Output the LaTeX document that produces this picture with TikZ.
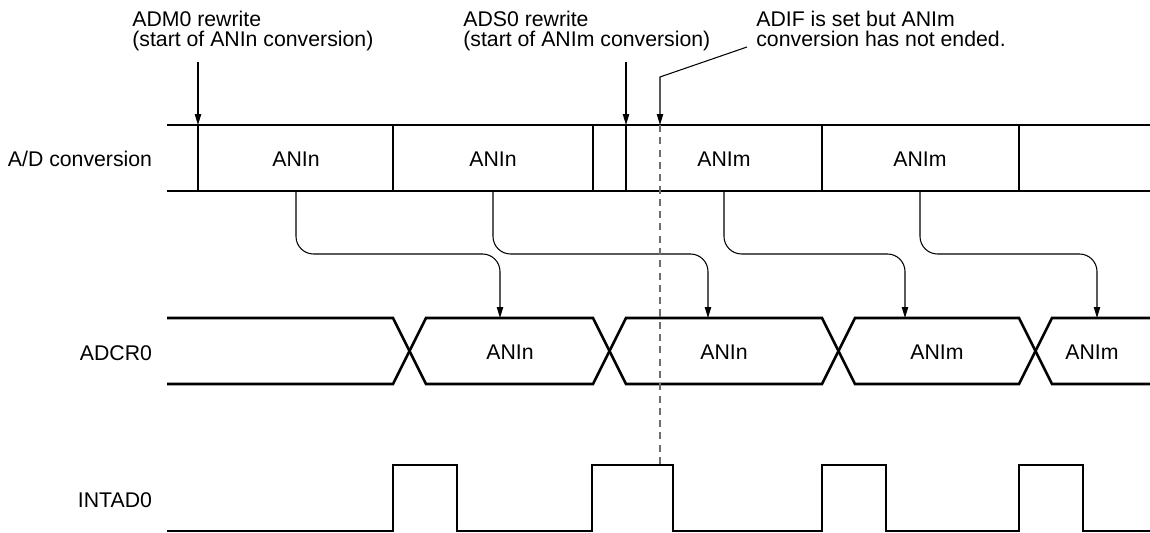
\documentclass[tikz,border=0pt]{standalone}
\usepackage{fontspec}
\setmainfont{Liberation Sans}
\usetikzlibrary{arrows.meta,positioning}
\definecolor{dashgray}{RGB}{110,110,110}
\tikzset{
  bus/.style={line width=1.5pt},
  divider/.style={line width=.6pt},
  pointer/.style={line width=.6pt,-{Triangle[length=6.2pt,width=3.6pt]}},
  flow/.style={pointer,rounded corners=10pt},
  note/.style={anchor=north west,inner sep=0pt,align=left}
}

\begin{document}
\begin{tikzpicture}[x=.02cm,y=-.02cm,font=\fontsize{12.1}{11.5}\selectfont]
    \useasboundingbox (0,0) rectangle (1150,533);
    % signal names
    \node (adname) at (80,159) {A/D conversion};
    \node (crname) at (116,353) {ADCR0};
    \node (intname) at (115,500) {INTAD0};
    % notes on top
    \node[note] (admnote) at (132,11) {ADM0 rewrite\\(start of ANIn conversion)};
    \node[note] (adsnote) at (463,11) {ADS0 rewrite\\(start of ANIm conversion)};
    \node[note] (adifnote) at (756,11) {ADIF is set but ANIm\\conversion has not ended.};
    % A/D conversion row
    \draw[bus] (167,125)--(1150,125) (167,191)--(1150,191);
    \foreach \x in {198,393,593,626,822,1019}{\draw[divider] (\x,125)--(\x,191);}
    \foreach \x/\t/\n in {296/ANIn/c1,493/ANIn/c2,724/ANIm/c3,920/ANIm/c4}{\node (\n) at (\x,159) {\t};}
    % ADCR0 row
    \draw[bus] (167,318)--(393,318)--(426,384)--(593,384)--(626,318)--(822,318)--(855,384)--(1019,384)--(1052,318)--(1150,318);
    \draw[bus] (167,384)--(393,384)--(426,318)--(593,318)--(626,384)--(822,384)--(855,318)--(1019,318)--(1052,384)--(1150,384);
    \foreach \x/\t/\n in {510/ANIn/d1,724/ANIn/d2,937/ANIm/d3,1092/ANIm/d4}{\node (\n) at (\x,352) {\t};}
    % INTAD0 row
    \draw[bus] (167,531)--(393,531)--(393,465)--(457,465)--(457,531)--(592,531)--(592,465)--(673,465)--(673,531)
      --(822,531)--(822,465)--(886,465)--(886,531)--(1019,531)--(1019,465)--(1083,465)--(1083,531)--(1150,531);
    % points the arrows and curves go to
    \coordinate (adbot) at (0,191);
    \coordinate (bend) at (0,254);
    \foreach \x/\n in {500/e1,708/e2,905/e3,1097/e4}{\coordinate (\n) at (\x,318);}
    \coordinate (admtop) at (198,62);
    \coordinate (adm) at (198,125);
    \coordinate (adstop) at (626,62);
    \coordinate (ads) at (626,125);
    \coordinate (adifkink) at (660,77);
    \coordinate (adif) at (660,125);
    \coordinate (adifend) at (660,465);
    % conversion results into ADCR0
    \foreach \i in {1,...,4}{\draw[flow] (c\i |- adbot)--(c\i |- bend)--(e\i |- bend)--(e\i);}
    % marks
    \draw[pointer] (admtop)--(adm);
    \draw[pointer] (adstop)--(ads);
    \draw[pointer] (adifnote.west |- 0,47) ++(-9,0)--(adifkink)--(adif);
    \draw[line width=.6pt,dashgray,dash pattern=on 4pt off 3pt] (adif)--(adifend);
\end{tikzpicture}
\end{document}
